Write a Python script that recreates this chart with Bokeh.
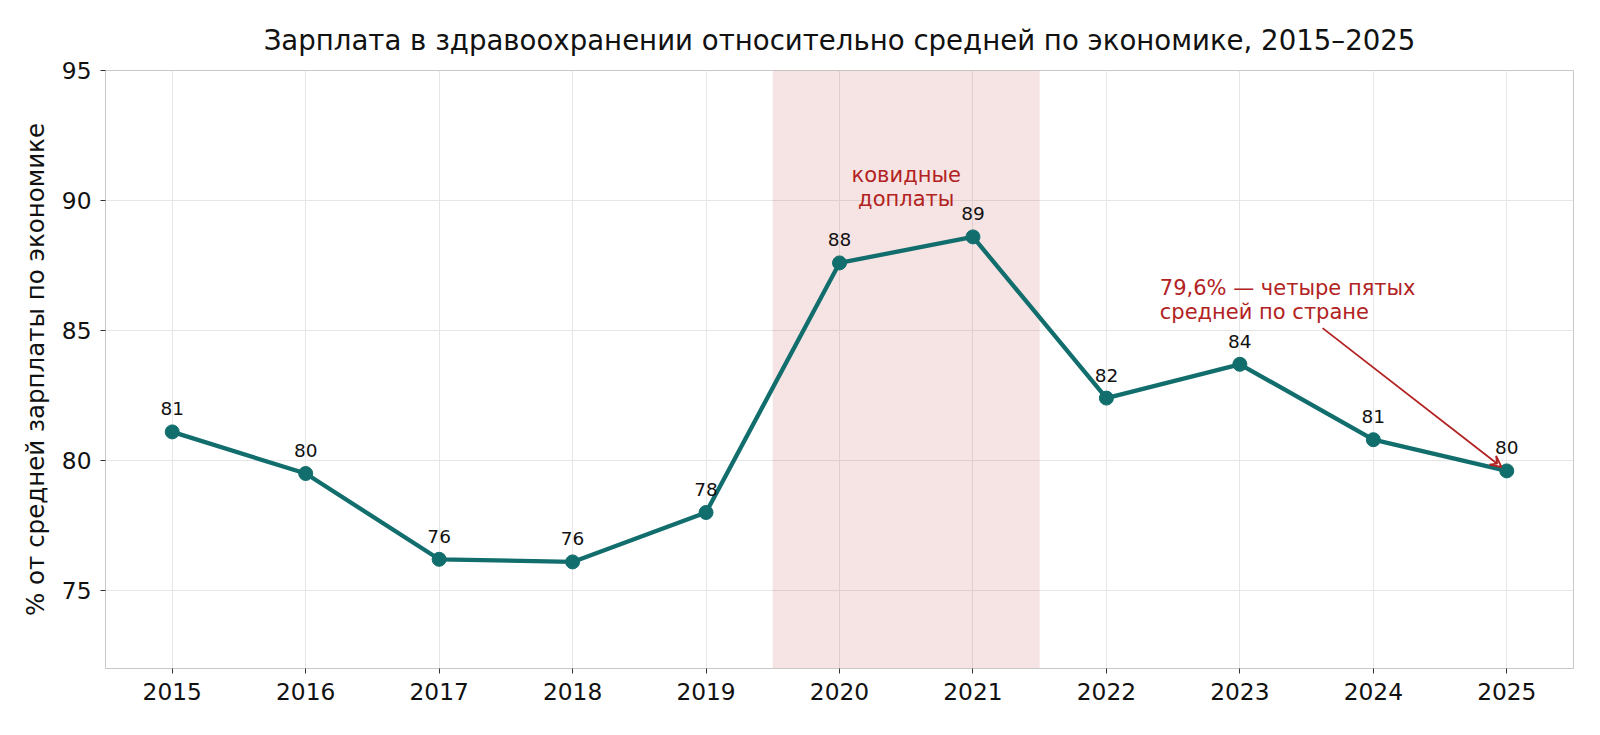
from bokeh.plotting import figure
from bokeh.models import ColumnDataSource, BoxAnnotation, Label, Arrow, VeeHead, FixedTicker, Range1d
from bokeh.embed import file_html
from bokeh.resources import INLINE
from bokeh.core.properties import value

years = [2015, 2016, 2017, 2018, 2019, 2020, 2021, 2022, 2023, 2024, 2025]
share = [81.1, 79.5, 76.2, 76.1, 78.0, 87.6, 88.6, 82.4, 83.7, 80.8, 79.6]
labels = [str(int(round(v))) for v in share]
covid_start, covid_end = 2019.5, 2021.5
y_ticks = [75, 80, 85, 90, 95]

FONT = "DejaVu Sans"
TEAL = "#116e6d"
RED = "#b22222"

p = figure(width=1584, height=719, output_backend="svg", toolbar_location=None,
           x_range=Range1d(2014.5, 2025.5), y_range=Range1d(72, 95),
           min_border_left=105, min_border_right=11, min_border_top=70, min_border_bottom=51,
           title="Зарплата в здравоохранении относительно средней по экономике, 2015–2025")
p.title.text_font = FONT
p.title.text_font_size = "27.6px"
p.title.text_font_style = "normal"
p.title.align = "center"
p.title.text_color = "#111111"
p.title.standoff = 28

p.outline_line_color = "#c8c8c8"
p.outline_line_width = 1
for ax in (p.xaxis, p.yaxis):
    ax.axis_line_color = "#c8c8c8"
    ax.major_tick_line_color = "#333333"
    ax.major_tick_out = 5
    ax.major_tick_in = 0
    ax.minor_tick_line_color = None
    ax.major_label_text_font = FONT
    ax.major_label_text_font_size = "23.3px"
    ax.major_label_text_color = "#111111"
p.xaxis.ticker = FixedTicker(ticks=years)
p.yaxis.ticker = FixedTicker(ticks=y_ticks)
p.xaxis.major_label_standoff = 9
p.yaxis.major_label_standoff = 9
p.yaxis.axis_label = "% от средней зарплаты по экономике"
p.yaxis.axis_label_text_font = FONT
p.yaxis.axis_label_text_font_size = "24.5px"
p.yaxis.axis_label_text_font_style = "normal"
p.yaxis.axis_label_text_color = "#111111"
p.yaxis.axis_label_standoff = 9

p.xgrid.grid_line_color = "#e6e6e6"
p.ygrid.grid_line_color = "#e6e6e6"
p.xgrid.ticker = FixedTicker(ticks=years)
p.ygrid.ticker = FixedTicker(ticks=y_ticks)

p.add_layout(BoxAnnotation(left=covid_start, right=covid_end, fill_color=RED,
                           fill_alpha=0.12, line_color=None, level="underlay"))

src = ColumnDataSource(dict(x=years, y=share, lab=labels))
p.line("x", "y", source=src, line_color=TEAL, line_width=4.3)
p.scatter("x", "y", source=src, size=14, fill_color=TEAL, line_color=TEAL)
p.text("x", "y", text="lab", source=src, y_offset=-23, text_align="center",
       text_baseline="alphabetic", text_font=value(FONT), text_font_size="18.5px",
       text_color="#111111")

p.add_layout(Label(x=(covid_start + covid_end) / 2, y=91.45, text="ковидные\nдоплаты",
                   text_align="center", text_baseline="top", text_font=FONT,
                   text_font_size="21px", text_color=RED, text_line_height=1.0))

p.add_layout(Label(x=2022.4, y=87.1, text="79,6% — четыре пятых\nсредней по стране",
                   text_align="left", text_baseline="top", text_font=FONT,
                   text_font_size="21px", text_color=RED, text_line_height=1.0))
p.add_layout(Arrow(end=VeeHead(size=11, line_color=RED, line_width=1.8, fill_color=None),
                   x_start=2023.62, y_start=85.09, x_end=2024.96, y_end=79.75,
                   line_color=RED, line_width=1.8))

open("out.html", "w").write(file_html(p, INLINE))
